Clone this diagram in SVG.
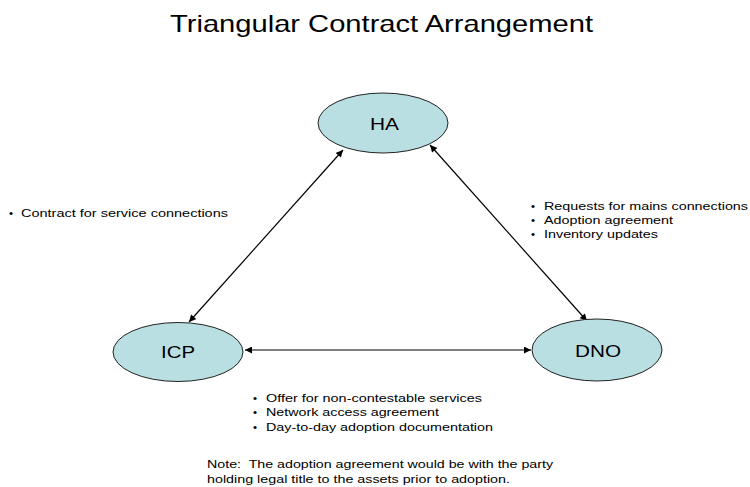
<svg xmlns="http://www.w3.org/2000/svg" width="750" height="487" viewBox="0 0 750 487">
<style>
text{font-family:"Liberation Sans",Arial,sans-serif;fill:#000;white-space:pre}
.title{font-size:24px}
.node{fill:#badfe3;stroke:#222;stroke-width:1}
.lbl{font-size:17px}
.s{font-size:11.5px}
.conn{stroke:#000;stroke-width:1.2;fill:none;marker-start:url(#ah);marker-end:url(#ah)}
</style>
<defs>
<marker id="ah" viewBox="0 0 10 10" refX="10" refY="5" markerWidth="8" markerHeight="7" markerUnits="userSpaceOnUse" orient="auto-start-reverse">
<path d="M0,0 L10,5 L0,10 z" fill="#000"/>
</marker>
</defs>
<rect width="750" height="487" fill="#fff"/>
<text class="title" x="170" y="32" textLength="423" lengthAdjust="spacingAndGlyphs">Triangular Contract Arrangement</text>
<g id="connectors">
<line class="conn" x1="343" y1="150" x2="189" y2="322"/>
<line class="conn" x1="430" y1="145" x2="587" y2="321"/>
<line class="conn" x1="245" y1="350" x2="531" y2="350"/>
</g>
<g id="HA">
<ellipse class="node" cx="383" cy="123" rx="65" ry="30"/>
<text class="lbl" x="370" y="130" textLength="29" lengthAdjust="spacingAndGlyphs">HA</text>
</g>
<g id="ICP">
<ellipse class="node" cx="178" cy="352" rx="65" ry="29.5"/>
<text class="lbl" x="161" y="358" textLength="34" lengthAdjust="spacingAndGlyphs">ICP</text>
</g>
<g id="DNO">
<ellipse class="node" cx="597" cy="350" rx="65" ry="31"/>
<text class="lbl" x="575" y="357" textLength="46" lengthAdjust="spacingAndGlyphs">DNO</text>
</g>
<g id="label-left">
<text class="s" x="9" y="217">•</text>
<text class="s" x="21" y="217" textLength="207" lengthAdjust="spacingAndGlyphs">Contract for service connections</text>
</g>
<g id="label-right">
<text class="s" x="531" y="210">•</text>
<text class="s" x="544" y="210" textLength="204" lengthAdjust="spacingAndGlyphs">Requests for mains connections</text>
<text class="s" x="531" y="224">•</text>
<text class="s" x="544" y="224" textLength="129" lengthAdjust="spacingAndGlyphs">Adoption agreement</text>
<text class="s" x="531" y="238">•</text>
<text class="s" x="544" y="238" textLength="114" lengthAdjust="spacingAndGlyphs">Inventory updates</text>
</g>
<g id="label-bottom">
<text class="s" x="253" y="402">•</text>
<text class="s" x="266" y="402" textLength="216" lengthAdjust="spacingAndGlyphs">Offer for non-contestable services</text>
<text class="s" x="253" y="416">•</text>
<text class="s" x="266" y="416" textLength="173" lengthAdjust="spacingAndGlyphs">Network access agreement</text>
<text class="s" x="253" y="431">•</text>
<text class="s" x="266" y="431" textLength="227" lengthAdjust="spacingAndGlyphs">Day-to-day adoption documentation</text>
</g>
<g id="note">
<text class="s" x="207" y="468" textLength="346" lengthAdjust="spacingAndGlyphs">Note:  The adoption agreement would be with the party</text>
<text class="s" x="207" y="483" textLength="303" lengthAdjust="spacingAndGlyphs">holding legal title to the assets prior to adoption.</text>
</g>
</svg>
